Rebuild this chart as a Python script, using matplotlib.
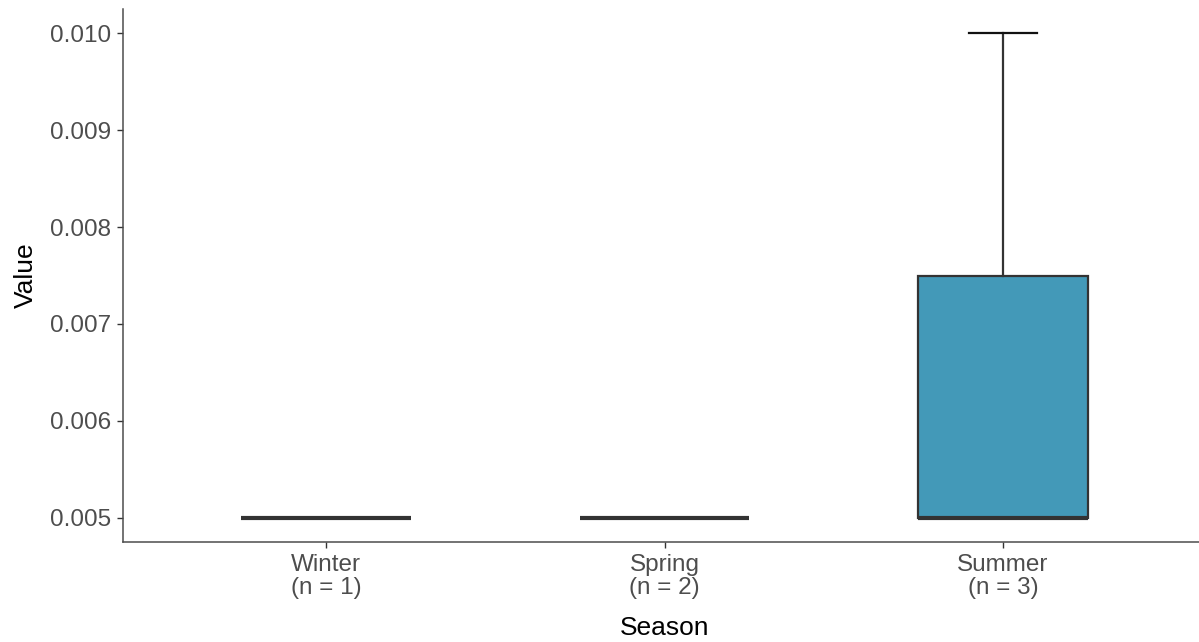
import matplotlib
matplotlib.use("Agg")
import matplotlib.pyplot as plt

plt.rcParams['font.family'] = ['Liberation Sans', 'DejaVu Sans']

seasons = ["Winter", "Spring", "Summer"]
winter_vals = [0.005]
spring_vals = [0.005, 0.005]
summer_vals = [0.005, 0.005, 0.010]
data = [winter_vals, spring_vals, summer_vals]
tick_labels = [f"{s}\n(n = {len(v)})" for s, v in zip(seasons, data)]
yticks = [0.005, 0.006, 0.007, 0.008, 0.009, 0.010]

fill_color = "#4399B8"

fig = plt.figure(figsize=(11.99, 6.42), dpi=100)
ax = fig.add_axes([123/1199, 1 - 542/642, (1206 - 123)/1199, (542 - 9)/642])

positions = [1, 2, 3]
bp = ax.boxplot(
    data, positions=positions, widths=0.5, patch_artist=True,
    capwidths=0.2, showfliers=False, whis=1.5,
    boxprops=dict(facecolor=fill_color, edgecolor="#333333", linewidth=1.6),
    medianprops=dict(color="#333333", linewidth=3.0, solid_capstyle="butt"),
    whiskerprops=dict(color="#333333", linewidth=1.6),
    capprops=dict(color="#111111", linewidth=1.6),
)

ymin, ymax = 0.005, 0.010
pad = (ymax - ymin) * 0.05
ax.set_ylim(ymin - pad, ymax + pad)
ax.set_xlim(0.4, 3.6)
ax.set_yticks(yticks)
ax.set_yticklabels([f"{v:.3f}" for v in yticks])
ax.set_xticks(positions)
ax.set_xticklabels(tick_labels)

for side in ["top", "right"]:
    ax.spines[side].set_visible(False)
for side in ["left", "bottom"]:
    ax.spines[side].set_color("#4D4D4D")
    ax.spines[side].set_linewidth(1.1)

ax.tick_params(axis="both", colors="#333333", length=4.5, width=1.0,
               labelsize=17.5, labelcolor="#4D4D4D")
ax.tick_params(axis="y", pad=4)
ax.tick_params(axis="x", pad=4)
for lab in ax.get_xticklabels():
    lab.set_linespacing(1.08)

ax.set_xlabel("Season", fontsize=19, color="black", labelpad=12)
ax.set_ylabel("Value", fontsize=19, color="black", labelpad=9)

fig.savefig("out.png", dpi=100)
